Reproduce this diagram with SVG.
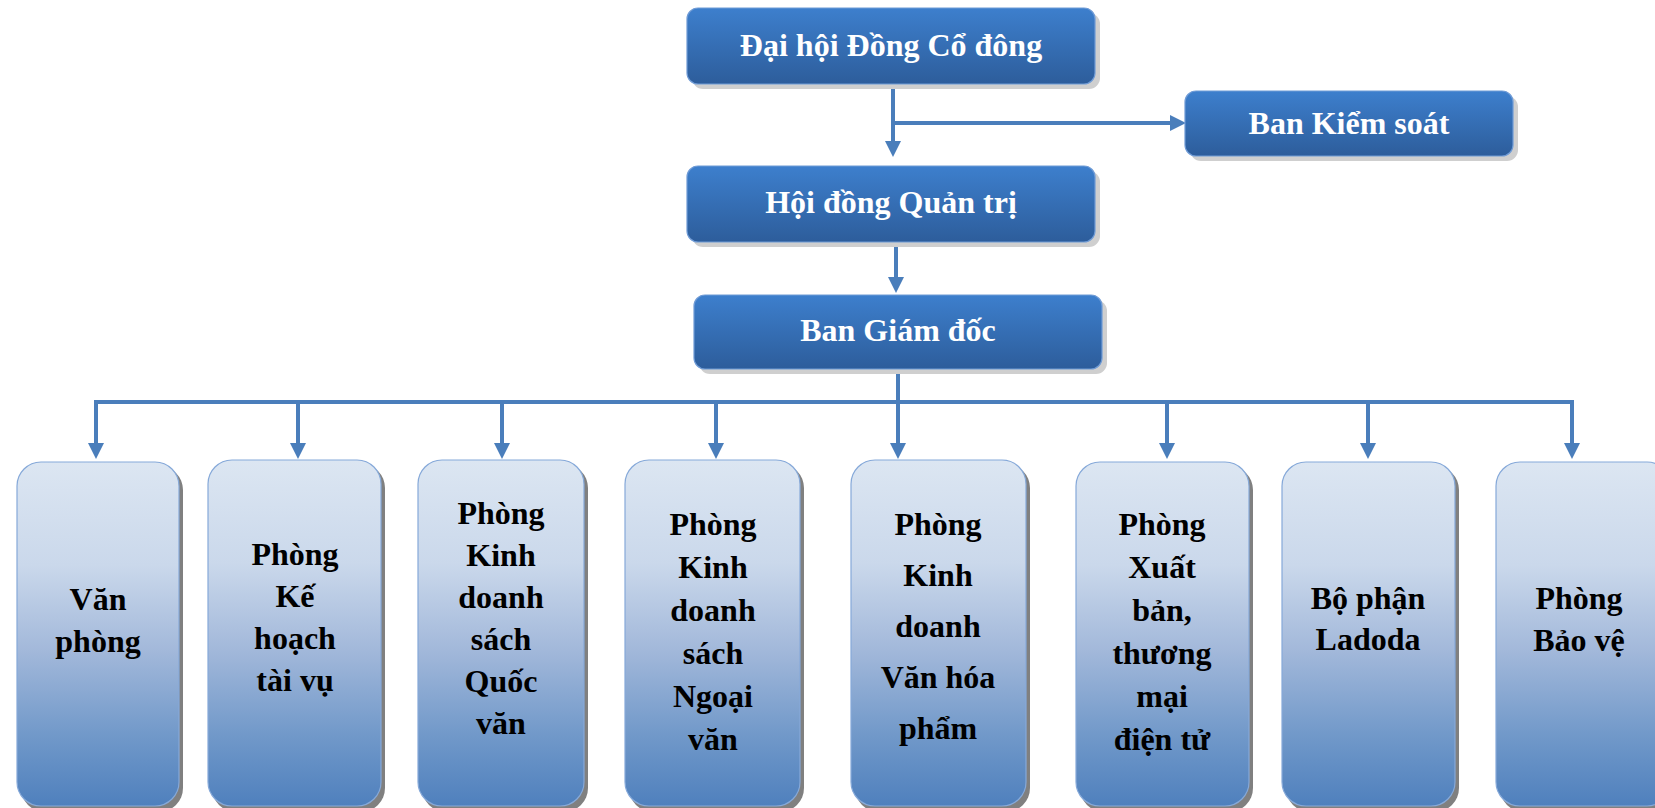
<svg xmlns="http://www.w3.org/2000/svg" width="1655" height="808" viewBox="0 0 1655 808">
<defs>
<linearGradient id="gTop" x1="0" y1="0" x2="0" y2="1">
<stop offset="0" stop-color="#3d7fcd"/>
<stop offset="1" stop-color="#2d5d9b"/>
</linearGradient>
<linearGradient id="gBot" x1="0" y1="0" x2="0" y2="1">
<stop offset="0" stop-color="#dce6f2"/>
<stop offset="0.3" stop-color="#cad8eb"/>
<stop offset="0.55" stop-color="#a2b8da"/>
<stop offset="0.8" stop-color="#7098c9"/>
<stop offset="1" stop-color="#4f80bd"/>
</linearGradient>
<marker id="arr" viewBox="0 0 16 16" refX="0" refY="8" markerWidth="16" markerHeight="16" markerUnits="userSpaceOnUse" orient="auto">
<path d="M0,0 L16,8 L0,16 Z" fill="#4a7ebb"/>
</marker>
</defs>
<style>
.tshadow{fill:#cfcfcf}
.tbox{fill:url(#gTop);stroke:#6f9bd6;stroke-width:1.2}
.bshadow{fill:#808080}
.bbox{fill:url(#gBot);stroke:#86a9d9;stroke-width:1.2}
.tt{font-family:"Liberation Serif","Times New Roman",serif;font-weight:bold;font-size:32px;fill:#ffffff;text-anchor:middle}
.bt{font-family:"Liberation Serif","Times New Roman",serif;font-weight:bold;font-size:32px;fill:#000000;text-anchor:middle}
.ln{fill:none;stroke:#4a7ebb;stroke-width:4}
.la{fill:none;stroke:#4a7ebb;stroke-width:4;marker-end:url(#arr)}
</style>

<g id="connectors">
<path class="la" d="M893,84 V141"/>
<path class="la" d="M893,123 H1170"/>
<path class="la" d="M896,242 V277"/>
<path class="la" d="M898,369 V443"/>
<path class="ln" d="M96,402 H1572"/>
<path class="la" d="M96,400 V443"/>
<path class="la" d="M298,402 V443"/>
<path class="la" d="M502,402 V443"/>
<path class="la" d="M716,402 V443"/>
<path class="la" d="M1167,402 V443"/>
<path class="la" d="M1368,402 V443"/>
<path class="la" d="M1572,400 V443"/>
</g>

<g id="n_daihoi">
<rect class="tshadow" x="692" y="13" width="408" height="76" rx="11"/>
<rect class="tbox" x="687" y="8" width="408" height="76" rx="11"/>
<text class="tt" x="891" y="56">Đại hội Đồng Cổ đông</text>
</g>
<g id="n_bankiemsoat">
<rect class="tshadow" x="1190" y="96" width="328" height="65" rx="11"/>
<rect class="tbox" x="1185" y="91" width="328" height="65" rx="11"/>
<text class="tt" x="1349" y="134">Ban Kiểm soát</text>
</g>
<g id="n_hdqt">
<rect class="tshadow" x="692" y="171" width="408" height="76" rx="11"/>
<rect class="tbox" x="687" y="166" width="408" height="76" rx="11"/>
<text class="tt" x="891" y="213">Hội đồng Quản trị</text>
</g>
<g id="n_bgd">
<rect class="tshadow" x="699" y="300" width="408" height="74" rx="11"/>
<rect class="tbox" x="694" y="295" width="408" height="74" rx="11"/>
<text class="tt" x="898" y="341">Ban Giám đốc</text>
</g>

<g id="n_vanphong">
<rect class="bshadow" x="21" y="466" width="162" height="346" rx="24"/>
<rect class="bbox" x="17" y="462" width="162" height="344" rx="24"/>
<text class="bt"><tspan x="98" y="610">Văn</tspan><tspan x="98" y="652">phòng</tspan></text>
</g>
<g id="n_kehoach">
<rect class="bshadow" x="212" y="464" width="173" height="348" rx="24"/>
<rect class="bbox" x="208" y="460" width="173" height="346" rx="24"/>
<text class="bt"><tspan x="295" y="565">Phòng</tspan><tspan x="295" y="607">Kế</tspan><tspan x="295" y="649">hoạch</tspan><tspan x="295" y="691">tài vụ</tspan></text>
</g>
<g id="n_quocvan">
<rect class="bshadow" x="422" y="464" width="166" height="348" rx="24"/>
<rect class="bbox" x="418" y="460" width="166" height="346" rx="24"/>
<text class="bt"><tspan x="501" y="524">Phòng</tspan><tspan x="501" y="566">Kinh</tspan><tspan x="501" y="608">doanh</tspan><tspan x="501" y="650">sách</tspan><tspan x="501" y="692">Quốc</tspan><tspan x="501" y="734">văn</tspan></text>
</g>
<g id="n_ngoaivan">
<rect class="bshadow" x="629" y="464" width="175" height="348" rx="24"/>
<rect class="bbox" x="625" y="460" width="175" height="346" rx="24"/>
<text class="bt"><tspan x="713" y="535">Phòng</tspan><tspan x="713" y="578">Kinh</tspan><tspan x="713" y="621">doanh</tspan><tspan x="713" y="664">sách</tspan><tspan x="713" y="707">Ngoại</tspan><tspan x="713" y="750">văn</tspan></text>
</g>
<g id="n_vanhoapham">
<rect class="bshadow" x="855" y="464" width="175" height="348" rx="24"/>
<rect class="bbox" x="851" y="460" width="175" height="346" rx="24"/>
<text class="bt"><tspan x="938" y="535">Phòng</tspan><tspan x="938" y="586">Kinh</tspan><tspan x="938" y="637">doanh</tspan><tspan x="938" y="688">Văn hóa</tspan><tspan x="938" y="739">phẩm</tspan></text>
</g>
<g id="n_xuatban">
<rect class="bshadow" x="1080" y="466" width="173" height="346" rx="24"/>
<rect class="bbox" x="1076" y="462" width="173" height="344" rx="24"/>
<text class="bt"><tspan x="1162" y="535">Phòng</tspan><tspan x="1162" y="578">Xuất</tspan><tspan x="1162" y="621">bản,</tspan><tspan x="1162" y="664">thương</tspan><tspan x="1162" y="707">mại</tspan><tspan x="1162" y="750">điện tử</tspan></text>
</g>
<g id="n_ladoda">
<rect class="bshadow" x="1286" y="466" width="173" height="346" rx="24"/>
<rect class="bbox" x="1282" y="462" width="173" height="344" rx="24"/>
<text class="bt"><tspan x="1368" y="609">Bộ phận</tspan><tspan x="1368" y="650">Ladoda</tspan></text>
</g>
<g id="n_baove">
<rect class="bshadow" x="1500" y="466" width="175" height="346" rx="24"/>
<rect class="bbox" x="1496" y="462" width="175" height="344" rx="24"/>
<text class="bt"><tspan x="1579" y="609">Phòng</tspan><tspan x="1579" y="651">Bảo vệ</tspan></text>
</g>
</svg>
